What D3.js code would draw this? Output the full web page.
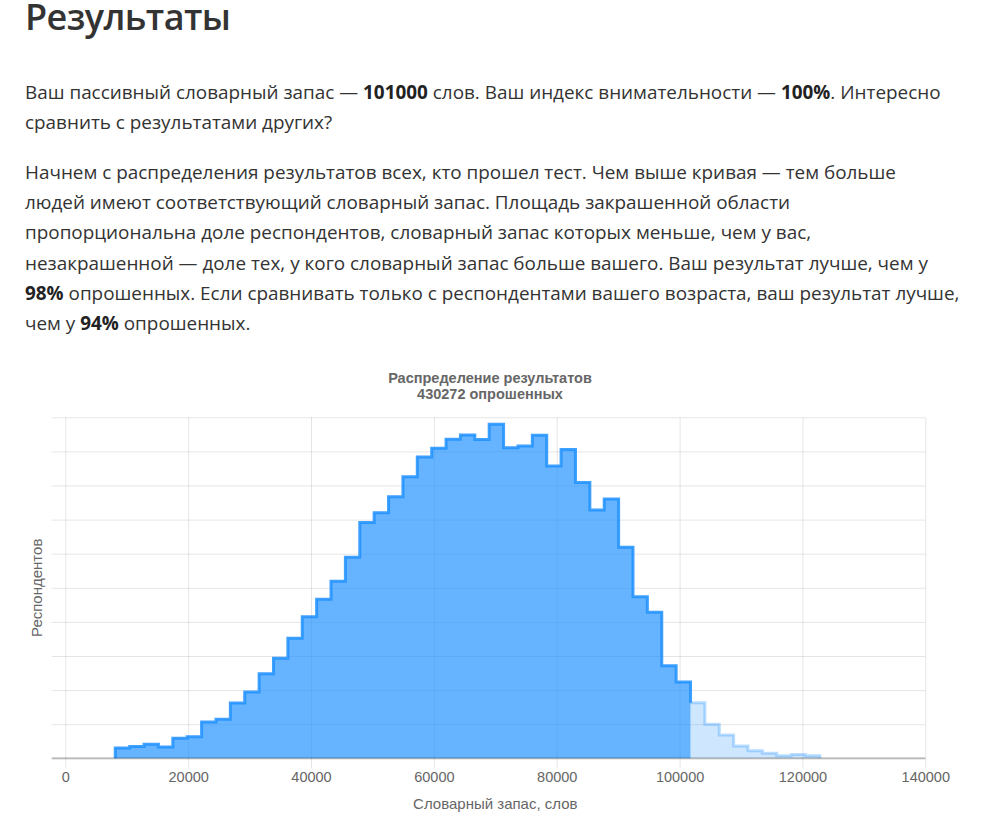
<!DOCTYPE html>
<html>
<head>
<meta charset="utf-8">
<script src="https://cdn.jsdelivr.net/npm/d3@7"></script>
<style>
  body { margin: 0; background: #fff; width: 986px; height: 823px; overflow: hidden; position: relative; }
  .txt { position: absolute; left: 25px; font-family: "Open Sans", sans-serif; color: #333; white-space: nowrap; }
  h1 { position: absolute; left: 25px; top: 0; margin: 0; font-family: "Open Sans", sans-serif; font-weight: 600; font-size: 36px; line-height: 34px; letter-spacing: -0.6px; color: #333; }
  .txt p { margin: 0; font-size: 18.9px; line-height: 30.2px; }
  .txt b { color: #222; }
  svg { position: absolute; left: 0; top: 0; }
</style>
</head>
<body>
<h1>Результаты</h1>
<div class="txt" style="top:77px">
  <p>Ваш пассивный словарный запас — <b>101000</b> слов. Ваш индекс внимательности — <b>100%</b>. Интересно<br>сравнить с результатами других?</p>
</div>
<div class="txt" style="top:157px">
  <p>Начнем с распределения результатов всех, кто прошел тест. Чем выше кривая — тем больше<br>людей имеют соответствующий словарный запас. Площадь закрашенной области<br>пропорциональна доле респондентов, словарный запас которых меньше, чем у вас,<br>незакрашенной — доле тех, у кого словарный запас больше вашего. Ваш результат лучше, чем у<br><b>98%</b> опрошенных. Если сравнивать только с респондентами вашего возраста, ваш результат лучше,<br>чем у <b>94%</b> опрошенных.</p>
</div>
<div id="chart"></div>
<script>
// данные гистограммы
const userScore = 101000;
const totalResp = 430272;
const binStart = 8140;
const binWidth = 2341;
const counts = [
  600, 690, 820, 660, 1170, 1270, 2130, 2290, 3240, 3890,
  4960, 5870, 7040, 8300, 9330, 10380, 11790, 13830, 14400, 15340,
  16520, 17670, 18180, 18710, 18960, 18700, 19590, 18220, 18320, 18950,
  17140, 18110, 16180, 14560, 15210, 12380, 9480, 8560, 5430, 4480,
  3260, 1990, 1370, 720, 450, 290, 150, 230, 150
];
const xTicks = [0, 20000, 40000, 60000, 80000, 100000, 120000, 140000];
const yTicks = [0, 2000, 4000, 6000, 8000, 10000, 12000, 14000, 16000, 18000, 20000];

const W = 986, H = 823;
const plotL = 65.3, plotR = 925.3, plotT = 417.3, plotB = 758.3;

const svg = d3.select("#chart").append("svg")
    .attr("width", W)
    .attr("height", H);

const x = d3.scaleLinear().domain([0, 140000]).range([plotL, plotR]);
const y = d3.scaleLinear().domain([0, 20000]).range([plotB, plotT]);

const font = "'Liberation Sans', Arial, Helvetica, sans-serif";

// сетка по Y
svg.append("g")
    .attr("transform", `translate(${plotR},0)`)
    .call(d3.axisLeft(y).tickValues(yTicks).tickSize(plotR - 51.7).tickFormat(""))
    .call(g => g.select(".domain").remove())
    .call(g => g.selectAll("line").attr("stroke", "rgba(0,0,0,0.1)"));

// сетка по X + подписи
svg.append("g")
    .attr("transform", `translate(0,${plotB + 10})`)
    .call(d3.axisBottom(x).tickValues(xTicks).tickFormat(d3.format("d"))
        .tickSize(-(plotB + 10 - plotT)).tickPadding(3))
    .call(g => g.select(".domain").remove())
    .call(g => g.selectAll("line").attr("stroke", "rgba(0,0,0,0.1)"))
    .call(g => g.selectAll("text")
        .attr("fill", "#666")
        .style("font-family", font)
        .style("font-size", "14.5px"));

// точки ступенчатой линии
const bins = counts.map((c, i) => ({ x0: binStart + i * binWidth, v: c }));
const splitIdx = bins.findIndex(b => b.x0 + binWidth > userScore) + 1;
const endX = binStart + counts.length * binWidth;

const darkPts = [[binStart, 0]].concat(
    bins.slice(0, splitIdx).map(b => [b.x0, b.v]),
    [[bins[splitIdx].x0, bins[splitIdx].v]]
);
const lightPts = bins.slice(splitIdx).map(b => [b.x0, b.v]).concat([[endX, 0]]);

const area = d3.area()
    .curve(d3.curveStepAfter)
    .x(d => x(d[0]))
    .y0(y(0))
    .y1(d => y(d[1]));
const line = d3.line()
    .curve(d3.curveStepAfter)
    .x(d => x(d[0]))
    .y(d => y(d[1]));

svg.append("path").datum(lightPts)
    .attr("d", area)
    .attr("fill", "rgba(30,144,255,0.22)");
svg.append("path").datum(lightPts)
    .attr("d", line)
    .attr("fill", "none")
    .attr("stroke", "rgba(30,144,255,0.3)")
    .attr("stroke-width", 3);

svg.append("path").datum(darkPts)
    .attr("d", area)
    .attr("fill", "rgba(30,144,255,0.68)");
svg.append("path").datum(darkPts)
    .attr("d", line)
    .attr("fill", "none")
    .attr("stroke", "rgba(30,144,255,0.85)")
    .attr("stroke-width", 3);

// ось X
svg.append("line")
    .attr("x1", 51.7).attr("x2", plotR)
    .attr("y1", plotB).attr("y2", plotB)
    .attr("stroke", "rgba(0,0,0,0.22)")
    .attr("stroke-width", 2);

// заголовок
const title = svg.append("g")
    .attr("text-anchor", "middle")
    .attr("fill", "#666")
    .style("font-family", font)
    .style("font-size", "14.5px")
    .style("font-weight", "bold");
title.append("text").attr("x", 490).attr("y", 382.5).text("Распределение результатов");
title.append("text").attr("x", 490).attr("y", 398.5).text(`${totalResp} опрошенных`);

// подписи осей
svg.append("text")
    .attr("x", (plotL + plotR) / 2)
    .attr("y", 809)
    .attr("text-anchor", "middle")
    .attr("fill", "#666")
    .style("font-family", font)
    .style("font-size", "15px")
    .text("Словарный запас, слов");

svg.append("text")
    .attr("transform", `translate(42,${(plotT + plotB) / 2}) rotate(-90)`)
    .attr("text-anchor", "middle")
    .attr("fill", "#666")
    .style("font-family", font)
    .style("font-size", "15px")
    .text("Респондентов");
</script>
</body>
</html>
